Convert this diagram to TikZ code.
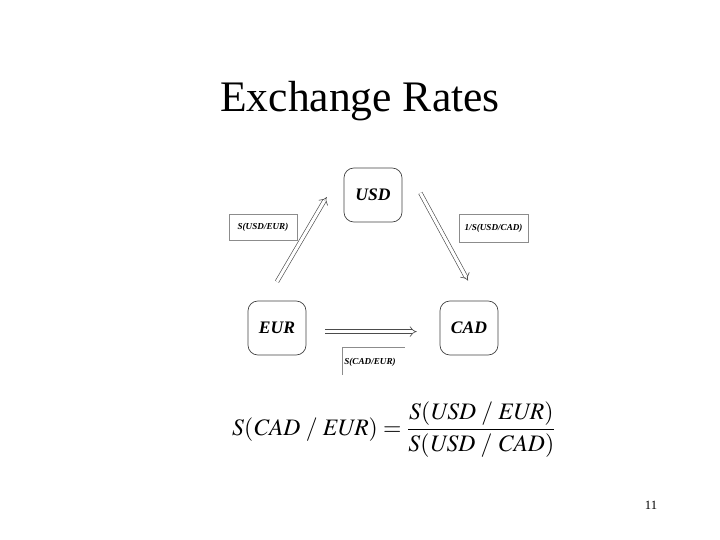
\documentclass[tikz,border=0pt]{standalone}
\usepackage{mathptmx}
\usepackage{amsmath}
\usepackage[no-math]{fontspec}
\setmainfont{Liberation Serif}
\usepackage{tikz}
\usetikzlibrary{arrows.meta, positioning, calc}

\begin{document}
\begin{tikzpicture}[
  curbox/.style={draw=black!75, line width=0.5pt, rounded corners=7pt, minimum width=1.45cm, minimum height=1.35cm, font=\fontsize{12.5}{14}\selectfont\bfseries\itshape},
  ratebox/.style={draw=black!45, line width=0.5pt, inner sep=0pt, font=\fontsize{6.5}{8}\selectfont\bfseries\itshape},
  dblarrow/.style={draw=black!70, line width=0.45pt, double=white, double distance=2.2pt, -{Implies[length=7pt]}}
]
  \useasboundingbox (0,0) rectangle (18,13.5);
  \node (title) at (9, 10.975) {\fontsize{31}{36}\selectfont Exchange Rates};
  \node[curbox] (usd) at (9.325, 8.625) {USD};
  \node[curbox] (eur) at (6.925, 5.3) {EUR};
  \node[curbox] (cad) at (11.725, 5.3) {CAD};
  \node[ratebox, minimum width=1.7cm, minimum height=0.65cm] (usdeur) at (6.575, 7.825) {S(USD/EUR)};
  \node[ratebox, minimum width=1.72cm, minimum height=0.7cm] (usdcad) at (12.34, 7.8) {1/S(USD/CAD)};
  \node[ratebox, draw=none] (cadeur) at (9.25, 4.45) {S(CAD/EUR)};
  \coordinate (cadeurcorner) at (8.55, 4.825);
  \draw[black!45, line width=0.5pt] ($(cadeurcorner)+(0,-0.7)$) -- (cadeurcorner) -- ++(1.575,0);
  \draw[dblarrow] ($(eur.north)+(0,0.475)$) -- ($(usd.west)+(-0.425,-0.05)$);
  \draw[dblarrow] ($(usd.east)+(0.45,0.05)$) -- ($(cad.north)+(-0.025,0.5)$);
  \draw[dblarrow] ($(eur.east)+(0.475,-0.09)$) -- ($(cad.west)+(-0.575,-0.09)$);
  \node (rule) at (9.85, 2.75) {\fontsize{16.8}{20}\selectfont $\displaystyle S(\mathit{CAD}\;/\;\mathit{EUR}) = \frac{S(\mathit{USD}\;/\;\mathit{EUR})}{S(\mathit{USD}\;/\;\mathit{CAD})}$};
  \node (page) at (16.275, 0.875) {\fontsize{9}{11}\selectfont 11};
\end{tikzpicture}
\end{document}
